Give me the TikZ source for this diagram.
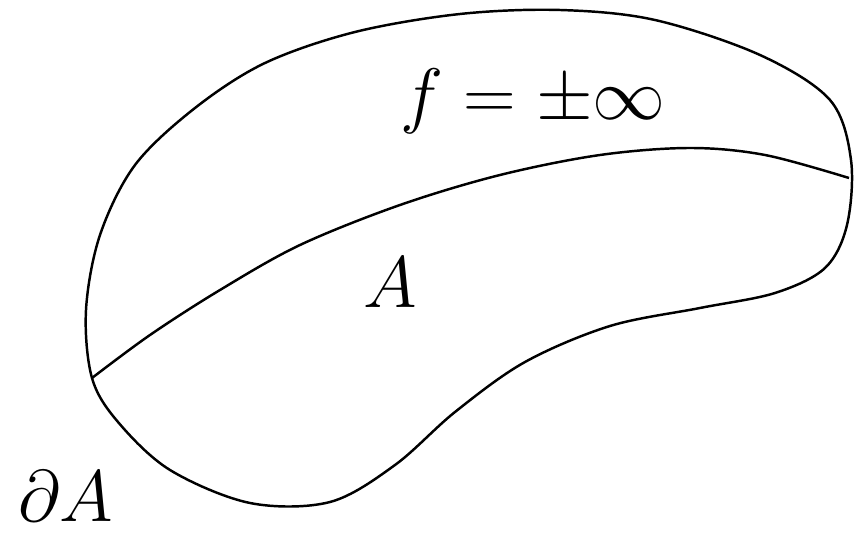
\documentclass[tikz,border=0pt]{standalone}
\usepackage{amsmath}
\usetikzlibrary{positioning}

\tikzset{
  rim/.style={line width=0.7pt, black},
  lbl/.style={inner sep=0pt, font=\fontsize{22}{26}\selectfont}
}

\begin{document}
\begin{tikzpicture}[x=0.01cm, y=-0.01cm]

\useasboundingbox (0,0) rectangle (854,534);

%---------------------------------------
% Boundary of the region
%---------------------------------------
\coordinate (corner) at (92,378);

\draw[rim] plot[smooth cycle, tension=0.55] coordinates {
  (92,378) (86,310) (100,235) (135,165) (195,108) (265,63)
  (355,32) (460,14) (560,10) (655,20) (760,55) (830,100)
  (851,160) (847,225) (825,268) (775,293) (700,308) (610,326)
  (525,362) (455,412) (395,465) (330,502) (250,503) (170,470)
  (118,422)
};

%---------------------------------------
% Curve separating A
%---------------------------------------
\draw[rim] plot[smooth, tension=0.55] coordinates {
  (corner) (150,335) (220,290) (300,245) (400,205) (500,175)
  (600,155) (690,148) (765,155) (849,178)
};

%---------------------------------------
% Labels
%---------------------------------------
\node[lbl] (finf) at (533,101) {$f=\pm\infty$};
\node[lbl] (setA) at (390,283) {$A$};
\node[lbl] (bdA) at (66,496) {$\partial A$};

\end{tikzpicture}
\end{document}
